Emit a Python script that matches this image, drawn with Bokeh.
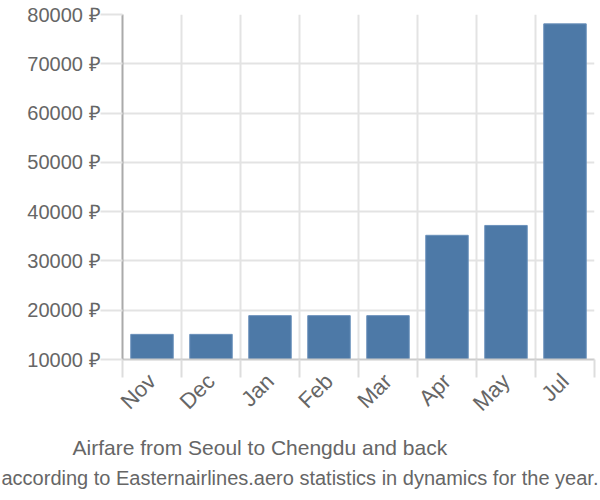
from bokeh.plotting import figure
from bokeh.models import Range1d, FixedTicker, Title
from bokeh.embed import file_html
from bokeh.resources import INLINE
import math

months = ["Nov", "Dec", "Jan", "Feb", "Mar", "Apr", "May", "Jul"]
prices = [15100, 15100, 18900, 18900, 18900, 35200, 37200, 78100]
y_ticks = [10000, 20000, 30000, 40000, 50000, 60000, 70000, 80000]
title_text = "Airfare from Seoul to Chengdu and back"
subtitle_text = "according to Easternairlines.aero statistics in dynamics for the year."

FONT = "Liberation Sans"
GREY = "#666666"

n = len(months)
xs = [i + 0.5 for i in range(n)]

p = figure(width=600, height=500, output_backend="svg", toolbar_location=None,
           x_range=Range1d(0, n), y_range=Range1d(y_ticks[0], y_ticks[-1]),
           min_border_left=122, min_border_right=6, min_border_top=14,
           min_border_bottom=141)
p.outline_line_color = None

p.vbar(x=xs, top=prices, bottom=y_ticks[0], width=0.72,
       fill_color="#4d79a7", line_color="#6b91bb", line_width=1)

# x axis
xt = FixedTicker(ticks=xs, minor_ticks=list(range(n + 1)))
p.xaxis.ticker = xt
p.xaxis.major_label_overrides = {x: m for x, m in zip(xs, months)}
p.xaxis.major_tick_line_color = None
p.xaxis.minor_tick_in = 0
p.xaxis.minor_tick_out = 18
p.xaxis.minor_tick_line_color = "#dddddd"
p.xaxis.minor_tick_line_width = 2
p.xaxis.axis_line_color = "#cccccc"
p.xaxis.axis_line_width = 2
p.xaxis.major_label_orientation = math.pi / 4
p.xaxis.major_label_text_font = FONT
p.xaxis.major_label_text_font_size = "22px"
p.xaxis.major_label_text_color = GREY
p.xaxis.major_label_standoff = 0
p.xgrid.ticker = FixedTicker(ticks=list(range(n + 1)))
p.xgrid.grid_line_color = "#e3e3e3"
p.xgrid.grid_line_width = 2

# y axis
p.yaxis.ticker = FixedTicker(ticks=y_ticks)
p.yaxis.major_label_overrides = {v: f"{v} \u20bd" for v in y_ticks}
p.yaxis.axis_line_color = "#aaaaaa"
p.yaxis.axis_line_width = 2
p.yaxis.major_tick_in = 0
p.yaxis.major_tick_out = 22
p.yaxis.major_tick_line_color = "#e3e3e3"
p.yaxis.major_tick_line_width = 2
p.yaxis.minor_tick_line_color = None
p.yaxis.major_label_text_font = FONT
p.yaxis.major_label_text_font_size = "20px"
p.yaxis.major_label_text_color = GREY
p.yaxis.major_label_standoff = 0
p.ygrid.grid_line_color = "#e3e3e3"
p.ygrid.grid_line_width = 2

# titles below (left-aligned with offsets so that they sit centred on the page)
t1 = Title(text=title_text, align="left", text_font=FONT,
           text_font_size="21px", text_color=GREY, text_font_style="normal",
           standoff=12, offset=-50)
t2 = Title(text=subtitle_text, align="left", text_font=FONT,
           text_font_size="20px", text_color=GREY, text_font_style="normal",
           standoff=0, offset=-121)
p.add_layout(t1, "below")
p.add_layout(t2, "below")

open("out.html", "w").write(file_html(p, INLINE))
